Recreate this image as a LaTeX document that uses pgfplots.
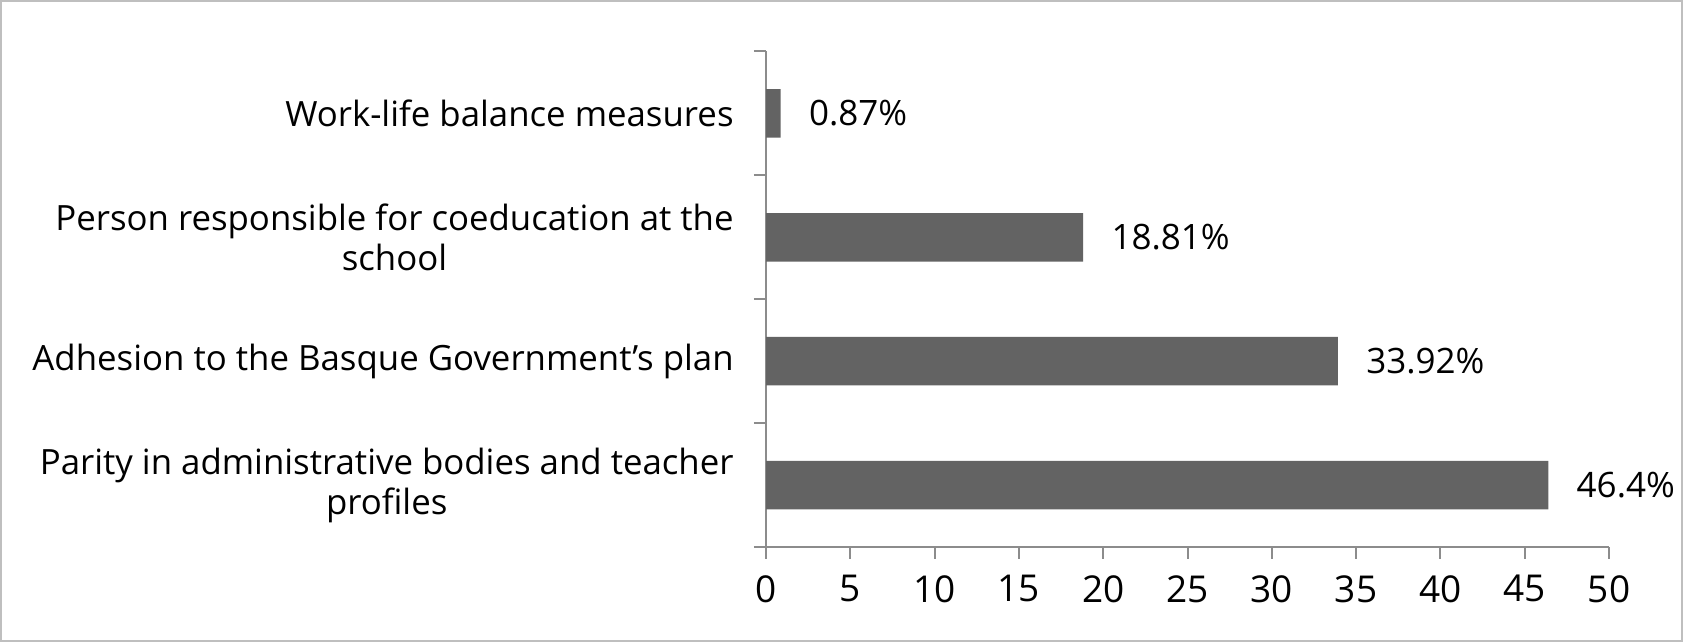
\documentclass[border=0pt]{standalone}
\usepackage{pgfplots}
\pgfplotsset{compat=1.18}
\usepackage{fontspec}
\setmainfont{Open Sans}
\definecolor{barc}{HTML}{636363}
\definecolor{axc}{HTML}{8C8C8C}
\definecolor{frc}{HTML}{BFBFBF}
\begin{document}
\begin{tikzpicture}
\path[use as bounding box] (0,0) rectangle (841.5bp,321bp);
\draw[frc, line width=1bp] (0.5bp,0.5bp) rectangle (841bp,320.5bp);
\begin{axis}[
  at={(383bp,47.5bp)}, anchor=south west,
  scale only axis, width=421.5bp, height=247.75bp,
  xbar, bar width=24.25bp,
  xmin=0, xmax=50, ymin=-0.5, ymax=3.5,
  axis lines*=left,
  axis line style={axc, line width=1bp},
  xtick={0,5,...,50},
  tick align=outside,
  x tick style={axc, line width=1bp},
  y tick style={axc, line width=1bp},
  ytick={-0.5,0.5,...,3.5},
  yticklabels={},
  major tick length=6bp,
  extra y ticks={0,1,2,3},
  extra y tick labels={{Parity in administrative bodies and teacher\\profiles},{Adhesion to the Basque Government’s plan},{Person responsible for coeducation at the\\school},{Work-life balance measures}},
  extra y tick style={major tick length=0pt, yticklabel style={align=center, anchor=east, inner sep=0pt, xshift=-16bp, font=\fontsize{17.4bp}{20bp}\selectfont}},
  /pgf/number format/assume math mode=true,
  ticklabel style={text=black},
  xticklabel style={inner sep=0pt, anchor=north, yshift=-8bp, font=\fontsize{18.5bp}{22bp}\selectfont},
  nodes near coords={\pgfmathprintnumber[fixed,precision=2]{\pgfplotspointmeta}\%},
  nodes near coords style={anchor=west, inner sep=0pt, xshift=14bp, font=\fontsize{17.5bp}{20bp}\selectfont, text=black},
  clip=false,
]
\addplot[fill=barc, draw=none] coordinates {(46.4,0) (33.92,1) (18.81,2) (0.87,3)};
\end{axis}
\end{tikzpicture}
\end{document}
